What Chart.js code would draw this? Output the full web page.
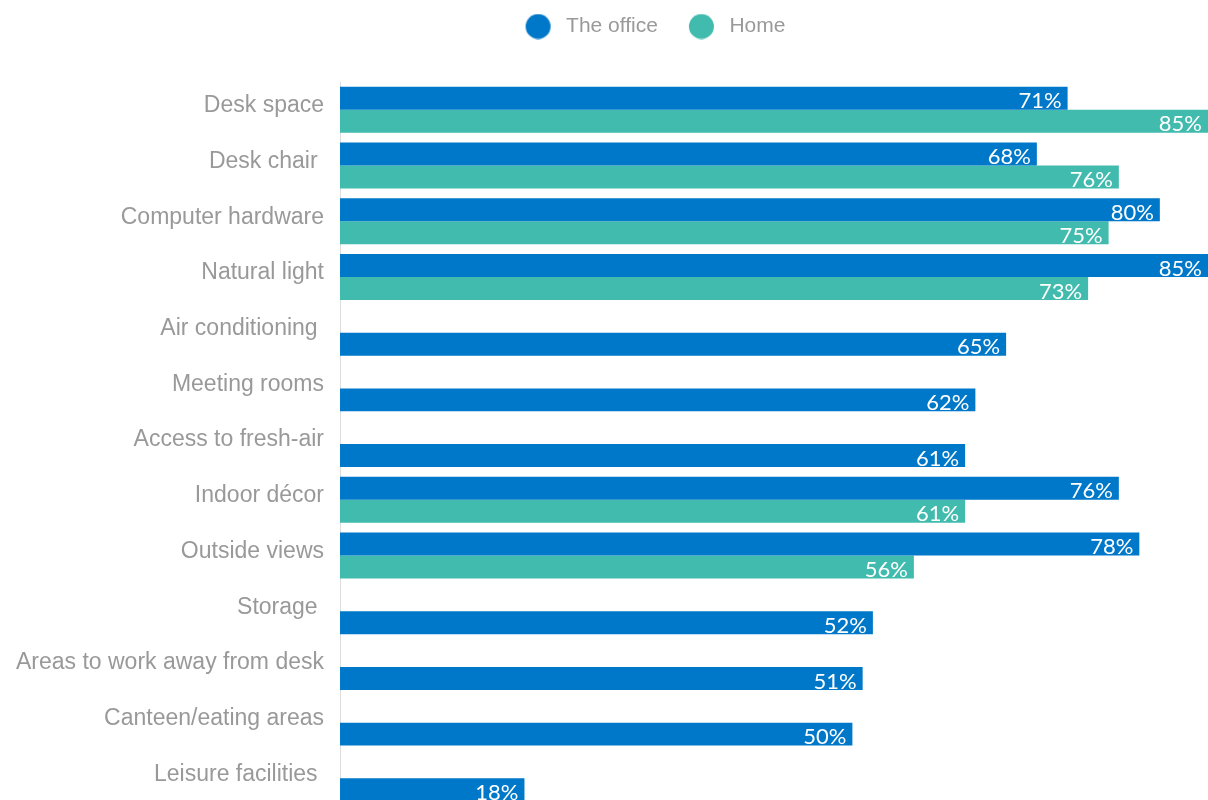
<!DOCTYPE html>
<html>
<head>
<meta charset="utf-8">
<script src="https://cdn.jsdelivr.net/npm/chart.js@4.4.1/dist/chart.umd.min.js"></script>
<style>
  html, body { margin: 0; padding: 0; background: #fff; overflow: hidden; }
  canvas { display: block; }
</style>
</head>
<body>
<canvas id="chart" width="1208" height="828"></canvas>
<script>
// categories and values
const categories = [
    'Desk space', 'Desk chair ', 'Computer hardware', 'Natural light',
    'Air conditioning ', 'Meeting rooms', 'Access to fresh-air', 'Indoor décor',
    'Outside views', 'Storage ', 'Areas to work away from desk',
    'Canteen/eating areas', 'Leisure facilities '
];
const officeValues = [71, 68, 80, 85, 65, 62, 61, 76, 78, 52, 51, 50, 18];
const homeValues = [85, 76, 75, 73, null, null, null, 61, 56, null, null, null, null];

const officeColor = '#0078c9';
const homeColor = '#41bbad';

// when there is no home value the office bar sits in the lower slot
const topSlot = officeValues.map((v, i) => homeValues[i] === null ? null : v);
const bottomSlot = officeValues.map((v, i) => homeValues[i] === null ? v : homeValues[i]);
const bottomColors = homeValues.map(v => v === null ? officeColor : homeColor);

// legend dot: blank room on the left, then a 25px circle
function makeDot(color) {
    const c = document.createElement('canvas');
    c.width = 45;
    c.height = 26;
    const g = c.getContext('2d');
    g.fillStyle = color;
    g.beginPath();
    g.arc(27.5, 13, 12.5, 0, Math.PI * 2);
    g.fill();
    return c;
}
const dots = [makeDot(officeColor), makeDot(homeColor)];

// value labels inside the bar ends
const barLabels = {
    id: 'barLabels',
    afterDatasetsDraw(chart) {
        const ctx = chart.ctx;
        ctx.save();
        ctx.font = '22px Lato';
        ctx.fillStyle = '#fff';
        ctx.textAlign = 'right';
        ctx.textBaseline = 'middle';
        chart.data.datasets.forEach((ds, di) => {
            chart.getDatasetMeta(di).data.forEach((bar, i) => {
                const v = ds.data[i];
                if (v === null) return;
                ctx.fillText(v + '%', Math.min(bar.x, chart.chartArea.right) - 6, bar.y + 3);
            });
        });
        ctx.restore();
    }
};

// extra room under the legend, and legend moved to the right a little
const legendGap = {
    id: 'legendGap',
    beforeInit(chart) {
        const fit = chart.legend.fit;
        chart.legend.fit = function () {
            fit.bind(chart.legend)();
            this.height += 35;
        };
    },
    afterLayout(chart) {
        chart.legend.left += 44;
        chart.legend.right += 44;
    }
};

new Chart(document.getElementById('chart'), {
    type: 'bar',
    data: {
        labels: categories,
        datasets: [{
            label: 'The office',
            data: topSlot,
            backgroundColor: officeColor,
            categoryPercentage: 0.825,
            barPercentage: 1
        }, {
            label: 'Home',
            data: bottomSlot,
            backgroundColor: bottomColors,
            categoryPercentage: 0.825,
            barPercentage: 1
        }]
    },
    options: {
        indexAxis: 'y',
        responsive: false,
        animation: false,
        layout: { padding: 0 },
        plugins: {
            legend: {
                position: 'top',
                labels: {
                    usePointStyle: true,
                    pointStyleWidth: 45,
                    boxHeight: 21,
                    padding: 16,
                    color: '#999',
                    font: { family: 'Liberation Sans, Arial, sans-serif', size: 21 },
                    generateLabels(chart) {
                        const items = Chart.defaults.plugins.legend.labels.generateLabels(chart);
                        items.forEach((it, i) => { it.pointStyle = dots[i]; });
                        return items;
                    }
                }
            },
            tooltip: { enabled: false }
        },
        scales: {
            x: {
                display: false,
                min: 0,
                max: 84.7
            },
            y: {
                grid: { display: false },
                border: { display: true, color: '#dddddd' },
                afterFit(scale) { scale.width = 340; },
                ticks: {
                    color: '#999',
                    padding: 8,
                    labelOffset: -4,
                    font: { family: 'Liberation Sans, Arial, sans-serif', size: 23 }
                }
            }
        }
    },
    plugins: [barLabels, legendGap]
});
</script>
</body>
</html>
